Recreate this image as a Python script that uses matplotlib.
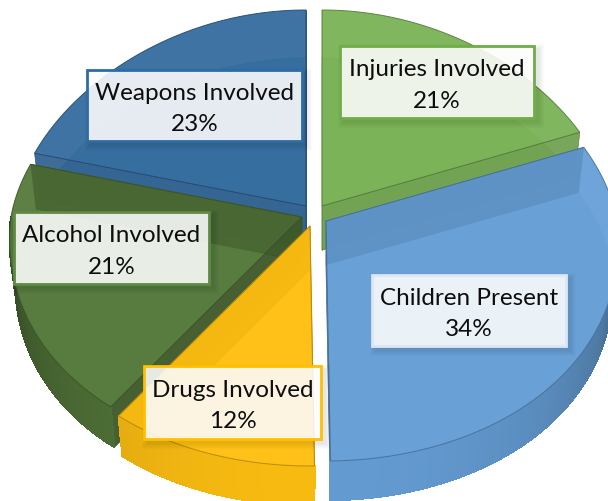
import numpy as np
import matplotlib
matplotlib.use("Agg")
import matplotlib.pyplot as plt
from matplotlib.patches import Polygon, Rectangle

# Chart data, clockwise from 12 o'clock (labels show these rounded)
categories = ["Injuries Involved", "Children Present", "Drugs Involved",
              "Alcohol Involved", "Weapons Involved"]
percents = [21.0, 34.4, 11.9, 21.0, 23.0]
colors = ["#79B255", "#669FD7", "#FFC012", "#55793B", "#336B9E"]
border_colors = ["#70AD47", "#DCE6F4", "#FFC000", "#5F8A45", "#2E6CA4"]
cut_shades = [0.9, 0.87, 0.94, 0.74, 0.9]

# exploded slice tips and label boxes (pixels: x0, y0, x1, y1)
tips = [(322, 207), (326, 222), (310, 227), (302, 218), (306, 207)]
boxes = [(340, 47, 534, 119), (372, 276, 566, 347), (144, 367, 321, 440),
         (14, 213, 209, 285), (87, 71, 302, 142)]

# 3D look of the pie
RX = 291
RY_BACK = 196
RY_FRONT = 240
PERSPECTIVE_BACK = 0.0006
PERSPECTIVE_FRONT = 0.0004
DEPTH = 44
draw_order = [4, 0, 3, 1, 2]


def project(theta, tip, scale=1.0, drop=0):
    """Map pie angles (degrees clockwise from top) onto the tilted disc."""
    t = np.radians(theta)
    back = np.cos(t) > 0
    dy = -np.cos(t) * np.where(back, RY_BACK, RY_FRONT)
    dx = RX * np.sin(t) * (1 + np.where(back, PERSPECTIVE_BACK, PERSPECTIVE_FRONT) * dy)
    return tip[0] + dx * scale, tip[1] + dy * scale + drop


def shade(color, factor):
    rgb = np.array(matplotlib.colors.to_rgb(color))
    return tuple(rgb * factor)


def draw_slice(ax, start, end, tip, color, cut_shade):
    theta = np.linspace(start, end, 120)
    low_tip = (tip[0], tip[1] + DEPTH)

    # bottom face
    xb, yb = project(theta, tip, 0.98, DEPTH)
    pts = np.vstack([[low_tip], np.column_stack([xb, yb])])
    ax.add_patch(Polygon(pts, closed=True, fc=color, ec=shade(color, 0.75),
                         lw=0.5, alpha=0.6))

    # the two cut faces
    quads = []
    for edge, i in ((start, 0), (end, -1)):
        xe, ye = project(np.array([edge]), tip)
        quads.append([tip, (xe[0], ye[0]), (xb[i], yb[i]), low_tip])
        ax.add_patch(Polygon(quads[-1], closed=True, fc=shade(color, cut_shade),
                             ec=shade(color, 0.7), lw=0.5, alpha=0.92))

    # outer wall, only the part facing the viewer
    xt, yt = project(theta, tip)
    for i in range(len(theta) - 1):
        mid = 0.5 * (theta[i] + theta[i + 1])
        if 90 < mid < 270:
            f = 0.5 + 0.47 * abs(np.sin(np.radians(mid - 90))) ** 0.7
            quad = [(xt[i], yt[i]), (xt[i + 1], yt[i + 1]),
                    (xb[i + 1], yb[i + 1]), (xb[i], yb[i])]
            ax.add_patch(Polygon(quad, closed=True, fc=shade(color, f),
                                 ec=shade(color, f), lw=0.8, antialiased=False))

    # top face
    pts = np.vstack([[tip], np.column_stack([xt, yt])])
    top = Polygon(pts, closed=True, fc=color, ec=shade(color, 0.72), lw=0.7, alpha=0.95)
    ax.add_patch(top)

    # far cut faces show through the top face as a darker band
    for quad in quads:
        band = Polygon(quad, closed=True, fc="black", ec="none", alpha=0.5 * (1 - cut_shade))
        ax.add_patch(band)
        band.set_clip_path(top)


def draw_label(ax, box, text, edge):
    x0, y0, x1, y1 = box
    # soft shadow
    for grow in range(6, 0, -1):
        ax.add_patch(Rectangle((x0 + 4 - grow, y0 + 4 - grow),
                               x1 - x0 + 2 * grow, y1 - y0 + 2 * grow,
                               fc="black", ec="none", alpha=0.016, zorder=5))
    ax.add_patch(Rectangle((x0, y0), x1 - x0, y1 - y0, fc="white", ec="none",
                           alpha=0.88, zorder=6))
    ax.add_patch(Rectangle((x0, y0), x1 - x0, y1 - y0, fc="none", ec=edge,
                           lw=2.0, zorder=7))
    ax.text(0.5 * (x0 + x1), 0.5 * (y0 + y1) + 2.5, text, ha="center", va="center",
            fontsize=17.5, family="Lato", color="#0d0d0d", linespacing=1.6,
            zorder=8)


def main():
    fig = plt.figure(figsize=(6.08, 5.02), dpi=100)
    ax = fig.add_axes([0, 0, 1, 1])
    ax.set_xlim(0, 608)
    ax.set_ylim(502, 0)
    ax.axis("off")

    ends = np.cumsum(percents) / np.sum(percents) * 360
    starts = np.concatenate([[0], ends[:-1]])

    for i in draw_order:
        draw_slice(ax, starts[i], ends[i], tips[i], colors[i], cut_shades[i])

    for i in range(len(categories)):
        draw_label(ax, boxes[i], f"{categories[i]}\n{round(percents[i])}%", border_colors[i])

    fig.savefig("out.png", dpi=100)


if __name__ == "__main__":
    main()
